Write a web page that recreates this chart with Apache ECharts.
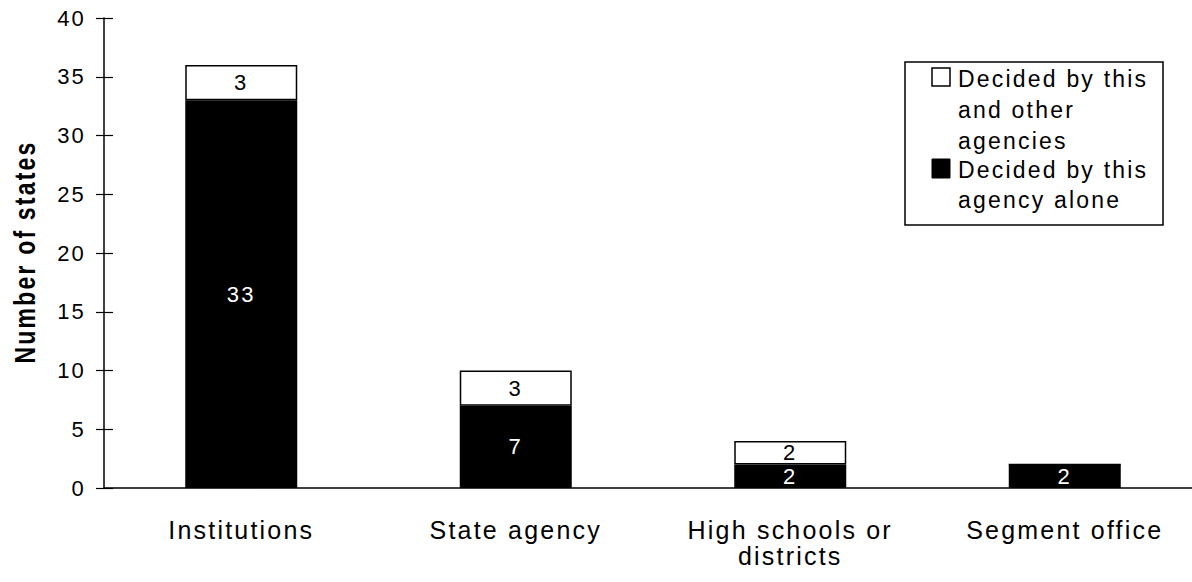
<!DOCTYPE html>
<html>
<head>
<meta charset="utf-8">
<script src="https://cdn.jsdelivr.net/npm/echarts@6/dist/echarts.min.js"></script>
<style>
html,body{margin:0;padding:0;background:#fff;overflow:hidden}
#c{width:1202px;height:582px}
#c svg text{letter-spacing:2.2px}
</style>
</head>
<body>
<div id="c"></div>
<script>
var categories = ['Institutions', 'State agency', 'High schools or\ndistricts', 'Segment office'];
var aloneValues = [33, 7, 2, 2];
var otherValues = [3, 3, 2, 0];
var yTicks = [0, 5, 10, 15, 20, 25, 30, 35, 40];
var yTitle = 'Number of states';
var legendOther = 'Decided by this and other agencies';
var legendAlone = 'Decided by this agency alone';

var FONT = 'Liberation Sans';
var chart = echarts.init(document.getElementById('c'), null, {renderer: 'svg'});
function lbl(color) {
  return {
    show: true, position: 'inside', color: color, fontFamily: FONT, fontSize: 22,
    formatter: function (p) { return p.value ? String(p.value) : ''; }
  };
}
chart.setOption({
  animation: false,
  backgroundColor: '#fff',
  grid: {left: 104, right: 0, top: 18, bottom: 94},
  xAxis: {
    type: 'category', data: categories,
    axisLine: {lineStyle: {color: '#000', width: 1.5}},
    axisTick: {show: false},
    axisLabel: {color: '#000', fontFamily: FONT, fontSize: 25, margin: 29, lineHeight: 26, interval: 0}
  },
  yAxis: [{
    type: 'value', min: 0, max: 40, interval: 5,
    axisLine: {show: true, lineStyle: {color: '#000', width: 1.5}},
    axisTick: {show: true, length: 8, lineStyle: {color: '#000', width: 1.2}},
    axisLabel: {color: '#000', fontFamily: FONT, fontSize: 22, margin: 18,
      formatter: function (v) { return yTicks.indexOf(v) >= 0 ? String(v) : ''; }},
    splitLine: {show: false}
  }, {
    type: 'value', min: 0, max: 40, interval: 5, position: 'left',
    axisLine: {show: false},
    axisTick: {show: true, inside: true, length: 9, lineStyle: {color: '#000', width: 1.2}},
    axisLabel: {show: false},
    splitLine: {show: false}
  }],
  series: [{
    name: legendAlone, type: 'bar', stack: 's', data: aloneValues, barWidth: 112,
    itemStyle: {color: '#000', borderColor: '#000', borderWidth: 1.5},
    label: lbl('#fff')
  }, {
    name: legendOther, type: 'bar', stack: 's', data: otherValues, barWidth: 112,
    itemStyle: {color: '#fff', borderColor: '#000', borderWidth: 1.5},
    label: lbl('#000')
  }],
  graphic: [
    {type: 'text', x: 25, y: 252, rotation: Math.PI / 2, scaleY: 1.3,
      style: {text: yTitle, fill: '#000', font: 'bold 23px "Liberation Sans"', align: 'center', verticalAlign: 'middle'}},
    {type: 'rect', shape: {x: 905, y: 62, width: 258, height: 163}, style: {fill: '#fff', stroke: '#000', lineWidth: 1.5}},
    {type: 'rect', shape: {x: 932, y: 68, width: 18, height: 18}, style: {fill: '#fff', stroke: '#000', lineWidth: 1.5}},
    {type: 'rect', shape: {x: 932, y: 159, width: 18, height: 19}, style: {fill: '#000', stroke: '#000', lineWidth: 1}},
    {type: 'text', style: {x: 958, y: 63, text: 'Decided by this\nand other\nagencies', fill: '#000', font: '23px "Liberation Sans"', lineHeight: 31}},
    {type: 'text', style: {x: 958, y: 155, text: 'Decided by this\nagency alone', fill: '#000', font: '23px "Liberation Sans"', lineHeight: 30}}
  ]
});
</script>
</body>
</html>
